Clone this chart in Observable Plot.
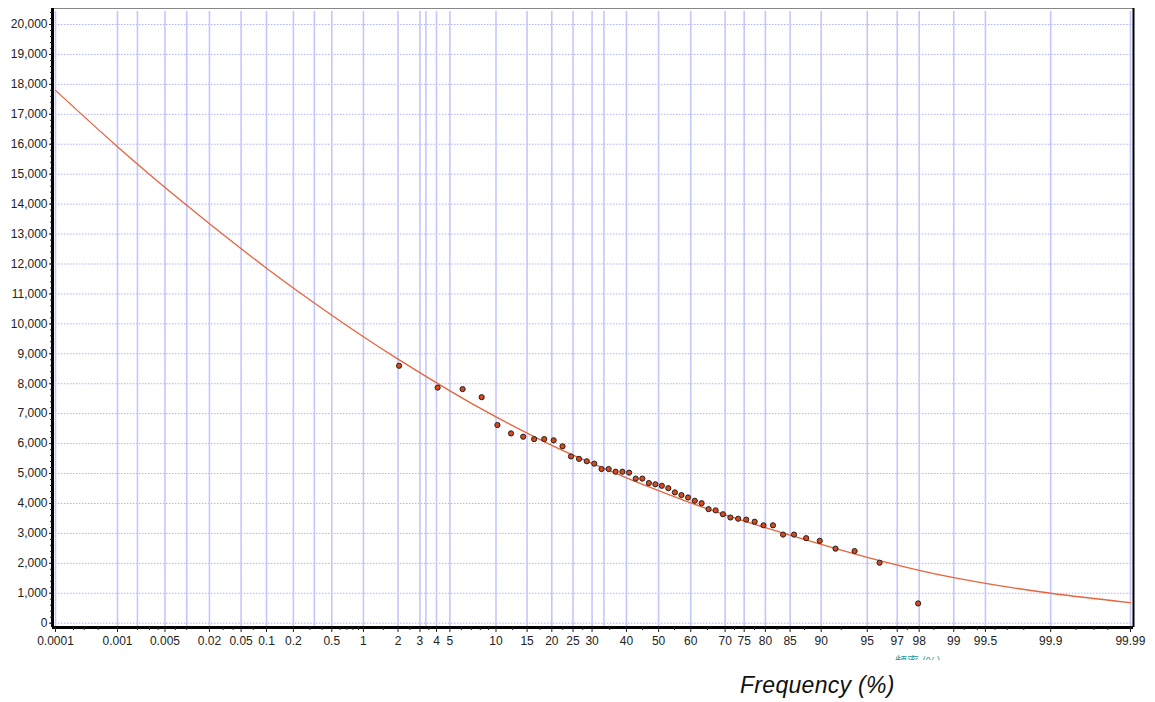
<!DOCTYPE html>
<html>
<head>
<meta charset="utf-8">
<script src="https://cdn.jsdelivr.net/npm/d3@7"></script>
<script src="https://cdn.jsdelivr.net/npm/@observablehq/plot@0.6"></script>
<style>
  html, body { margin: 0; padding: 0; background: #fff; }
  #wrap { position: relative; width: 1155px; height: 702px; overflow: hidden; }
  #xlabel { position: absolute; left: 740px; top: 672px; font: italic 23px "Liberation Sans", Arial, sans-serif; letter-spacing: 0.3px; color: #111; white-space: nowrap; }
  #cn { position: absolute; left: 895px; top: 654px; height: 6px; overflow: hidden; font: 12px "Noto Sans CJK SC", sans-serif; line-height: 14px; color: #1a9a9a; white-space: nowrap; }
</style>
</head>
<body>
<div id="wrap">
  <div id="chart"></div>
  <div id="xlabel">Frequency (%)</div>
  <div id="cn">频率 (%)</div>
</div>
<script>
// ---- data (frequency in %, values) ----
const pointFreq = [2.04, 4.08, 6.12, 8.16, 10.2, 12.24, 14.29, 16.33, 18.37, 20.41, 22.45, 24.49, 26.53, 28.57, 30.61, 32.65, 34.69, 36.73, 38.78, 40.82, 42.86, 44.9, 46.94, 48.98, 51.02, 53.06, 55.1, 57.14, 59.18, 61.22, 63.27, 65.31, 67.35, 69.39, 71.43, 73.47, 75.51, 77.55, 79.59, 81.63, 83.67, 85.71, 87.76, 89.8, 91.84, 93.88, 95.92, 97.96];
const pointValue = [8600, 7870, 7820, 7550, 6620, 6340, 6230, 6150, 6150, 6110, 5910, 5570, 5490, 5410, 5330, 5150, 5150, 5060, 5060, 5030, 4830, 4830, 4680, 4640, 4590, 4510, 4370, 4280, 4200, 4090, 4010, 3810, 3770, 3640, 3530, 3490, 3460, 3390, 3270, 3270, 2960, 2960, 2840, 2750, 2490, 2410, 2020, 660];

const curveFreq = [0.0001, 0.001, 0.01, 0.1, 0.5, 1, 2, 5, 10, 20, 30, 40, 50, 60, 70, 80, 90, 95, 98, 99, 99.5, 99.9, 99.99];
const curveValue = [17800, 15920, 13960, 11860, 10290, 9570, 8820, 7760, 6890, 5940, 5340, 4855, 4430, 4020, 3620, 3190, 2630, 2200, 1765, 1520, 1330, 1000, 685];

const xTickLabels = ["0.0001", "0.001", "0.005", "0.02", "0.05", "0.1", "0.2", "0.5", "1", "2", "3", "4", "5", "10", "15", "20", "25", "30", "40", "50", "60", "70", "75", "80", "85", "90", "95", "97", "98", "99", "99.5", "99.9", "99.99"];
const xGridFreq = [0.0001, 0.001, 0.002, 0.005, 0.01, 0.02, 0.05, 0.1, 0.2, 0.3333, 0.5, 1, 2, 3, 3.333, 4, 5, 10, 15, 20, 25, 30, 33.33, 40, 50, 60, 70, 75, 80, 85, 90, 95, 97, 98, 99, 99.5, 99.9, 99.99];
const xMinorFreq = [0.0002, 0.0003, 0.0005, 0.002, 0.003, 0.004, 0.007, 0.01, 0.03, 0.04, 0.07, 0.3, 0.4, 0.6, 0.7, 0.8, 0.9, 1.5, 2.5, 3.5, 6, 7, 8, 9, 12.5, 17.5, 22.5, 27.5, 35, 45, 55, 65, 72.5, 77.5, 82.5, 87.5, 92.5, 96, 97.5, 98.5, 99.2, 99.4, 99.6, 99.7, 99.8, 99.95, 99.97, 99.98];
const yTicks = d3.range(0, 20001, 1000);
const yMinor = d3.range(0, 20501, 200);

// ---- inverse normal CDF (probability scale) ----
function probit(p) {
  const a = [-3.969683028665376e+01, 2.209460984245205e+02, -2.759285104469687e+02, 1.383577518672690e+02, -3.066479806614716e+01, 2.506628277459239e+00];
  const b = [-5.447609879822406e+01, 1.615858368580409e+02, -1.556989798598866e+02, 6.680131188771972e+01, -1.328068155288572e+01];
  const c = [-7.784894002430293e-03, -3.223964580411365e-01, -2.400758277161838e+00, -2.549732539343734e+00, 4.374664141464968e+00, 2.938163982698783e+00];
  const d = [7.784695709041462e-03, 3.224671290700398e-01, 2.445134137142996e+00, 3.754408661907416e+00];
  const pl = 0.02425, ph = 1 - pl;
  if (p < pl) {
    const q = Math.sqrt(-2 * Math.log(p));
    return (((((c[0]*q+c[1])*q+c[2])*q+c[3])*q+c[4])*q+c[5]) / ((((d[0]*q+d[1])*q+d[2])*q+d[3])*q+1);
  }
  if (p <= ph) {
    const q = p - 0.5, r = q * q;
    return (((((a[0]*r+a[1])*r+a[2])*r+a[3])*r+a[4])*r+a[5])*q / (((((b[0]*r+b[1])*r+b[2])*r+b[3])*r+b[4])*r+1);
  }
  const q = Math.sqrt(-2 * Math.log(1 - p));
  return -(((((c[0]*q+c[1])*q+c[2])*q+c[3])*q+c[4])*q+c[5]) / ((((d[0]*q+d[1])*q+d[2])*q+d[3])*q+1);
}
const pz = f => probit(f / 100);

const points = pointFreq.map((f, i) => ({z: pz(f), v: pointValue[i]}));
const curve = curveFreq.map((f, i) => ({z: pz(f), v: curveValue[i]}));
const xTickZ = xTickLabels.map(s => pz(+s));
const labelOf = new Map(xTickZ.map((z, i) => [z, xTickLabels[i]]));

const xDomain = [-4.777, 3.743];
const yDomain = [-144, 20535];

const chart = Plot.plot({
  width: 1155,
  height: 660,
  marginLeft: 52,
  marginRight: 22,
  marginTop: 8,
  marginBottom: 33,
  x: {type: "linear", domain: xDomain},
  y: {domain: yDomain},
  style: {fontFamily: "'Liberation Sans', Arial, sans-serif", fontSize: "12px", color: "#222", background: "#fff"},
  marks: [
    Plot.ruleY(yTicks, {stroke: "#adb1ff", strokeDasharray: "1.5,1.5", strokeWidth: 1}),
    Plot.ruleX(xGridFreq, {x: d => pz(d), stroke: "#c4c7ff", strokeWidth: 1.6, insetTop: 3}),
    Plot.line(curve, {x: "z", y: "v", stroke: "#e8643c", strokeWidth: 1.3, curve: "natural"}),
    Plot.dot(points, {x: "z", y: "v", r: 2.6, fill: "#d9481c", stroke: "#222", strokeWidth: 1}),
    Plot.ruleY([yDomain[1]], {stroke: "#888", strokeWidth: 1}),
    Plot.ruleX([xDomain[1]], {stroke: "#000", strokeWidth: 2}),
    Plot.ruleX([xDomain[0]], {stroke: "#000", strokeWidth: 3}),
    Plot.ruleY([yDomain[0]], {stroke: "#000", strokeWidth: 3}),
    Plot.axisY({ticks: yTicks, tickFormat: d3.format(","), tickSize: 3, tickPadding: 2, label: null}),
    Plot.axisY({ticks: yMinor, tickSize: 2, tickFormat: () => "", label: null}),
    Plot.axisX({ticks: xTickZ, tickFormat: d => labelOf.get(d), tickSize: 5, tickPadding: 4, label: null}),
    Plot.axisX({ticks: xMinorFreq.map(pz), tickSize: 3, tickFormat: () => "", label: null})
  ]
});
document.getElementById("chart").appendChild(chart);
</script>
</body>
</html>
